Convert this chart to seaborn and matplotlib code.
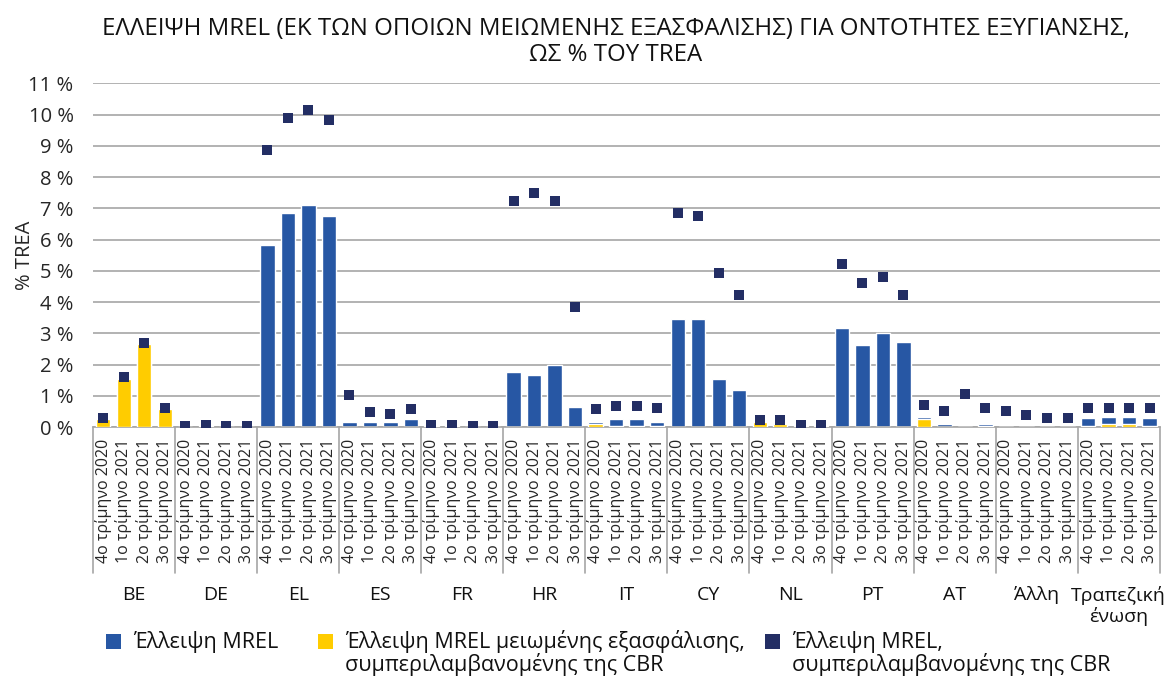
import numpy as np
import pandas as pd
import matplotlib
matplotlib.use("Agg")
import matplotlib.pyplot as plt
import matplotlib.transforms as mtransforms
from matplotlib.patches import Rectangle
import seaborn as sns

# data (% of TREA), 4 quarters per group
groups = ["BE", "DE", "EL", "ES", "FR", "HR", "IT", "CY", "NL", "PT", "AT", "Άλλη", "Τραπεζική\nένωση"]
quarters = ["4ο τρίμηνο 2020", "1ο τρίμηνο 2021", "2ο τρίμηνο 2021", "3ο τρίμηνο 2021"]

mrel_shortfall = [
    0.22, 1.50, 2.60, 0.52,   # BE
    0.0, 0.0, 0.0, 0.0,       # DE
    5.82, 6.85, 7.10, 6.75,   # EL
    0.18, 0.15, 0.15, 0.25,   # ES
    0.0, 0.0, 0.0, 0.0,       # FR
    1.75, 1.66, 1.98, 0.63,   # HR
    0.18, 0.25, 0.25, 0.18,   # IT
    3.45, 3.45, 1.53, 1.18,   # CY
    0.15, 0.07, 0.0, 0.0,     # NL
    3.16, 2.62, 3.00, 2.71,   # PT
    0.34, 0.09, 0.05, 0.09,   # AT
    0.05, 0.05, 0.05, 0.05,   # Άλλη
    0.28, 0.34, 0.34, 0.28,   # Τραπεζική ένωση
]
subord_shortfall = [
    0.25, 1.55, 2.65, 0.57,
    0.0, 0.05, 0.0, 0.0,
    0.0, 0.0, 0.0, 0.0,
    0.0, 0.0, 0.0, 0.0,
    0.05, 0.05, 0.0, 0.0,
    0.0, 0.0, 0.0, 0.0,
    0.09, 0.05, 0.05, 0.05,
    0.0, 0.0, 0.0, 0.0,
    0.18, 0.09, 0.05, 0.05,
    0.0, 0.0, 0.0, 0.0,
    0.25, 0.0, 0.0, 0.05,
    0.0, 0.0, 0.0, 0.0,
    0.05, 0.09, 0.09, 0.05,
]
mrel_cbr = [
    0.29, 1.60, 2.69, 0.61,
    0.03, 0.06, 0.03, 0.03,
    8.88, 9.90, 10.16, 9.81,
    1.03, 0.48, 0.42, 0.58,
    0.06, 0.06, 0.03, 0.03,
    7.24, 7.50, 7.24, 3.85,
    0.58, 0.67, 0.67, 0.61,
    6.86, 6.76, 4.94, 4.23,
    0.22, 0.22, 0.06, 0.06,
    5.22, 4.62, 4.81, 4.23,
    0.70, 0.51, 1.06, 0.61,
    0.51, 0.38, 0.29, 0.29,
    0.61, 0.61, 0.61, 0.61,
]

legend_labels = [
    ["Έλλειψη MREL"],
    ["Έλλειψη MREL μειωμένης εξασφάλισης,", "συμπεριλαμβανομένης της CBR"],
    ["Έλλειψη MREL,", "συμπεριλαμβανομένης της CBR"],
]

blue = "#2757A4"
yellow = "#FFCC00"
navy = "#232E64"
grid_col = "#A6A6A6"

sns.set_style("white")
plt.rcParams['font.family'] = ['Open Sans', 'DejaVu Sans']
plt.rcParams['text.color'] = '#111111'

n = len(groups) * len(quarters)
df = pd.DataFrame({
    "pos": np.arange(n),
    "mrel": mrel_shortfall,
    "subord": subord_shortfall,
    "cbr": mrel_cbr,
})

fig = plt.figure(figsize=(11.68, 6.77), dpi=100)
ax = fig.add_axes([0.0796, 0.369, 0.9134, 0.508])

# blue and yellow bars overlap, yellow in front; CBR shortfall as squares
sns.barplot(data=df, x="pos", y="mrel", color=blue, width=0.7, saturation=1, ax=ax, zorder=2)
sns.barplot(data=df, x="pos", y="subord", color=yellow, width=0.7, saturation=1, ax=ax, zorder=3)
sns.scatterplot(data=df, x="pos", y="cbr", color=navy, marker="s", s=60, linewidth=0, ax=ax, zorder=4)

ax.set_xlim(-0.5, n - 0.5)
ax.set_ylim(0, 11)
ax.set_yticks(range(0, 12))
ax.set_yticklabels([f"{v} %" for v in range(0, 12)], fontsize=14.5)
ax.yaxis.grid(True, color=grid_col, linewidth=1.2)
ax.set_axisbelow(True)
for s in ["left", "right", "top"]:
    ax.spines[s].set_visible(False)
ax.spines["bottom"].set_color(grid_col)
ax.spines["bottom"].set_linewidth(1.2)
ax.tick_params(axis="y", length=0, pad=14)
ax.tick_params(axis="x", length=0, pad=8)

ax.set_xticks(np.arange(n))
ax.set_xticklabels(quarters * len(groups), rotation=90, fontsize=11.5, va="top", ha="center")
ax.set_xlabel("")
ax.set_ylabel("% TREA", fontsize=14.5)
ax.yaxis.set_label_coords(-0.054, 0.5)

# group separators and group names below the axis
trans = mtransforms.blended_transform_factory(ax.transData, ax.transAxes)
for k in range(len(groups) + 1):
    xb = k * 4 - 0.5
    ax.plot([xb, xb], [0, -0.425], color=grid_col, linewidth=1.2, transform=trans, clip_on=False)
for k, g in enumerate(groups):
    ax.text(k * 4 + 1.5, -0.462, g, transform=trans, ha="center", va="top", fontsize=14, linespacing=1.15)

fig.suptitle("ΕΛΛΕΙΨΗ MREL (ΕΚ ΤΩΝ ΟΠΟΙΩΝ ΜΕΙΩΜΕΝΗΣ ΕΞΑΣΦΑΛΙΣΗΣ) ΓΙΑ ΟΝΤΟΤΗΤΕΣ ΕΞΥΓΙΑΝΣΗΣ,\nΩΣ % ΤΟΥ TREA",
             x=0.527, y=0.975, fontsize=17.3, linespacing=1.12)

# legend drawn by hand so the squares sit on the first text line
legend_colors = [blue, yellow, navy]
legend_x = [106, 318, 765]
for col, x0, lines in zip(legend_colors, legend_x, legend_labels):
    fig.add_artist(Rectangle((x0 / 1168, 1 - 649 / 677), 15 / 1168, 15 / 677,
                             transform=fig.transFigure, facecolor=col, edgecolor="none"))
    for i, line in enumerate(lines):
        fig.text((x0 + 27) / 1168, 1 - (648 + 23 * i) / 677, line, fontsize=15.5, va="baseline", ha="left")

fig.savefig("out.png", dpi=100)
